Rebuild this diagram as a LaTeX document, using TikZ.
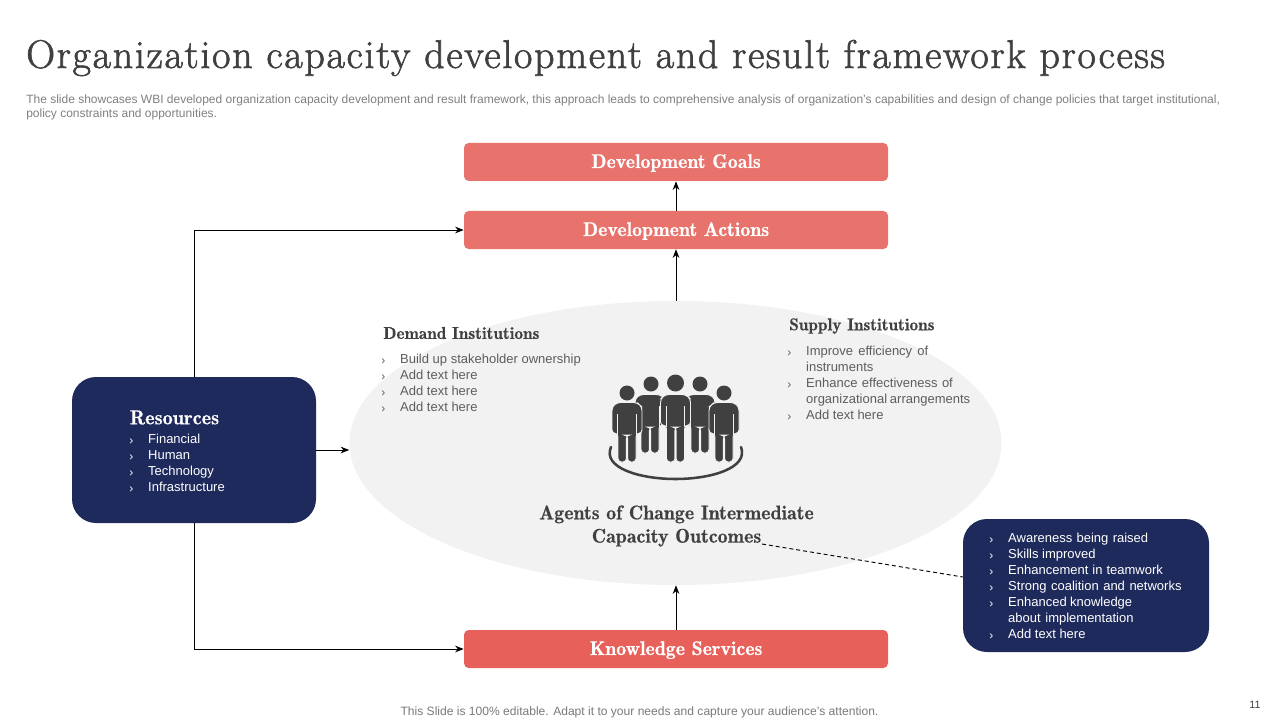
\documentclass[tikz,border=0pt]{standalone}
\usepackage{fontspec}
\setmainfont{Liberation Sans}
\newfontfamily\headf[LetterSpace=4.25,FakeBold=1.6]{Latin Modern Roman}
\newfontfamily\boldf[FakeBold=0.35]{Latin Modern Roman Demi}
\usetikzlibrary{shapes.geometric,arrows.meta}
\definecolor{navy}{HTML}{1F2A5C}
\definecolor{coralA}{HTML}{E8736C}
\definecolor{coralB}{HTML}{E8605A}
\definecolor{ink}{HTML}{404040}
\definecolor{softgray}{HTML}{F2F2F2}
\newcommand{\itm}[1]{\makebox[14.2pt][l]{\raisebox{-0.3pt}{\small ›}}#1}
\newcommand{\jst}[2]{\makebox[#1pt][s]{#2}}
\tikzset{
  x=0.75pt,y=-0.75pt,
  banner/.style={draw=none,fill=#1,rounded corners=3.5pt,minimum width=318pt,minimum height=28.5pt,inner sep=0pt,text=white,text height=10pt,text depth=1pt,font=\boldf\fontsize{14.9}{16}\selectfont},
  darkbox/.style={draw=none,fill=navy,rounded corners=#1,inner sep=0pt},
  listtext/.style={align=left,inner sep=0pt,anchor=north west,font=\fontsize{9.75}{12}\selectfont},
  lightlist/.style={listtext,text=white},
  graylist/.style={listtext,text=ink!85},
  headtext/.style={inner sep=0pt,text=ink,font=\boldf\fontsize{12.9}{14}\selectfont},
  link/.style={draw=black,line width=0.7pt,-{Stealth[length=6.5pt,width=5pt]}},
  personfill/.style={fill=ink,draw=softgray,line width=0.7pt,rounded corners=2.6pt},
  gapline/.style={draw=softgray,line width=0.55pt},
  pics/person/.style={code={
    \path[personfill] (-15,30.5) -- (-15,4) -- (-10,-0.5) -- (10,-0.5) -- (15,4) -- (15,30.5) -- (9,30.5) -- (9,#1) -- (0.55,#1) -- (0.55,32) -- (-0.55,32) -- (-0.55,#1) -- (-9,#1) -- (-9,30.5) -- cycle;
    \path[gapline] (-9.3,11) -- (-9.3,32) (9.3,11) -- (9.3,32);
  }},
}
\begin{document}
\begin{tikzpicture}
\useasboundingbox (0,0) rectangle (1280,720);
\fill[white] (0,0) rectangle (1280,720);

\node[anchor=west,inner sep=0pt,text=ink,font=\headf\fontsize{30}{34}\selectfont] (title) at (26,58) {Organization capacity development and result framework process};
\node[anchor=north west,inner sep=0pt,text=black!50,align=left,font=\fontsize{9}{10.5}\selectfont] (sub) at (26,94.5) {The slide showcases WBI developed organization capacity development and result framework, this approach leads to comprehensive analysis of organization's capabilities and design of change policies that target institutional,\\policy constraints and opportunities.};

\node[ellipse,fill=softgray,draw=none,inner sep=0pt,minimum width=489pt,minimum height=213pt] (core) at (675.5,443) {};

\node[banner=coralA] (goals) at (676,162) {Development Goals};
\node[banner=coralA] (actions) at (676,230) {Development Actions};
\node[banner=coralB] (knowledge) at (676,649) {Knowledge Services};

\node[darkbox=18pt,minimum width=183pt,minimum height=109.5pt] (resources) at (194,450) {};
\node[darkbox=18pt,minimum width=184.5pt,minimum height=99.75pt] (outcomes) at (1086,585.5) {};

\node[headtext,anchor=west,font=\boldf\fontsize{15.2}{16}\selectfont,text=white] (restitle) at (129.5,417.5) {Resources};
\node[lightlist] (reslist) at (129,434) {\itm{Financial}\\\itm{Human}\\\itm{Technology}\\\itm{Infrastructure}};

\node[headtext,anchor=west] (demand) at (383,333) {Demand Institutions};
\node[graylist] (demlist) at (381,354) {\itm{Build up stakeholder ownership}\\\itm{Add text here}\\\itm{Add text here}\\\itm{Add text here}};

\node[headtext,anchor=west] (supply) at (789,326) {Supply Institutions};
\node[graylist] (suplist) at (787,346) {\itm{\jst{91.5}{Improve efficiency of}}\\\hspace*{14.2pt}instruments\\\itm{\jst{110}{Enhance effectiveness of}}\\\hspace*{14.2pt}\jst{123}{organizational arrangements}\\\itm{Add text here}};

\node[lightlist] (outlist) at (989,533) {\itm{\jst{105}{Awareness being raised}}\\\itm{Skills improved}\\\itm{\jst{116}{Enhancement in teamwork}}\\\itm{\jst{130}{Strong coalition and networks}}\\\itm{\jst{93}{Enhanced knowledge}}\\\hspace*{14.2pt}\jst{94}{about implementation}\\\itm{Add text here}};

\node[align=center,inner sep=0pt,text=ink,font=\boldf\fontsize{14.9}{17.5}\selectfont] (agents) at (676.5,526) {Agents of Change Intermediate\\Capacity Outcomes};

% people
\fill[ink] (651,384) circle (7.5);
\fill[ink] (700,384) circle (7.5);
\pic at (650,395) {person=58};
\pic at (700,395) {person=58};
\fill[ink] (675.5,383) circle (8.5);
\begin{scope}[shift={(675.5,395)},xscale=1.2]
\pic at (0,0) {person=67};
\end{scope}
\fill[ink] (627,393) circle (7.5);
\fill[ink] (724,393) circle (7.5);
\pic at (627,403) {person=59};
\pic at (724,403) {person=59};
\draw[ink,line width=1.9pt,line cap=round] (611,447) .. controls (602,468) and (640,479) .. (675.5,479) .. controls (711,479) and (749,468) .. (741,447);

\draw[link] (actions.north) -- (goals.south);
\draw[link] (core.north -| actions.south) -- (actions.south);
\draw[link] (knowledge.north) -- (core.south -| knowledge.north);
\draw[link] (resources.east) -- (core.west |- resources.east);
\draw[link] (resources.north) |- (actions.west);
\draw[link] (resources.south) |- (knowledge.west);
\coordinate (agentsend) at (762,544);
\coordinate (outin) at (outcomes.west |- 0,577);
\draw[black,line width=0.7pt,dash pattern=on 3pt off 2.2pt] (agentsend) -- (outin);

\node[anchor=base,inner sep=0pt,text=black!52,font=\fontsize{9.05}{11}\selectfont] (foot) at (639.5,715) {This Slide is 100\% editable. Adapt it to your needs and capture your audience's attention.};
\node[anchor=base,inner sep=0pt,text=ink,font=\fontsize{8}{10}\selectfont] (pageno) at (1255,708) {11};
\end{tikzpicture}
\end{document}
